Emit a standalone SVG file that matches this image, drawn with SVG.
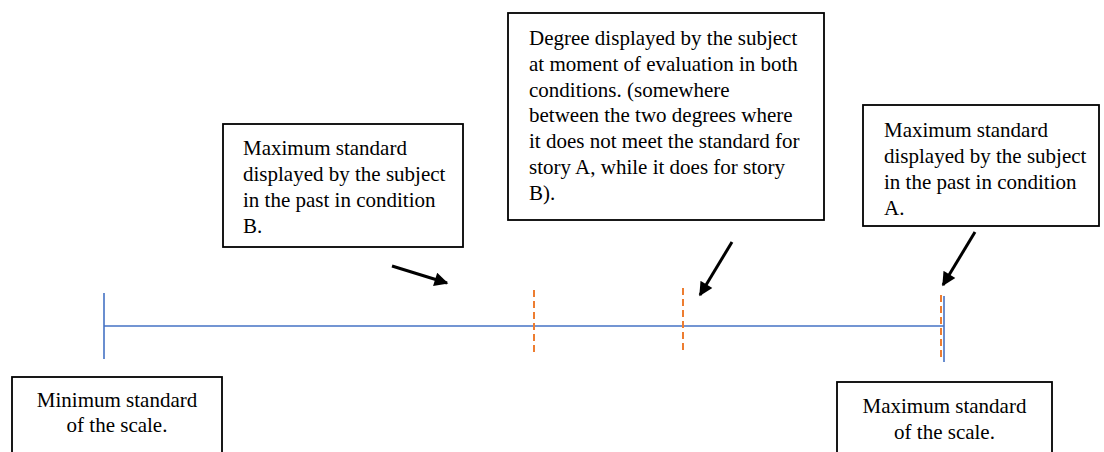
<svg xmlns="http://www.w3.org/2000/svg" width="1104" height="452" viewBox="0 0 1104 452">
<defs>
<style>
.box{fill:#fff;stroke:#000;stroke-width:1.8}
.t{font-family:"Liberation Serif","Times New Roman",serif;font-size:21px;fill:#000}
.c{text-anchor:middle}
.scale{stroke:#4472C4;stroke-width:1.6;fill:none}
.dash{stroke:#ED7D31;stroke-width:2;stroke-dasharray:7 4;fill:none}
.arr{stroke:#000;stroke-width:3;fill:none;marker-end:url(#ah)}
</style>
<marker id="ah" viewBox="0 0 10 10" refX="9" refY="5" markerWidth="5" markerHeight="4.6" orient="auto" markerUnits="strokeWidth">
<path d="M0,0 L10,5 L0,10 Z" fill="#000"/>
</marker>
</defs>
<rect width="1104" height="452" fill="#fff"/>
<g id="scale">
<line class="scale" x1="104" y1="326" x2="944" y2="326"/>
<line class="scale" x1="104" y1="293" x2="104" y2="359"/>
<line class="scale" x1="944" y1="296" x2="944" y2="362"/>
<line class="dash" x1="534" y1="290" x2="534" y2="354"/>
<line class="dash" x1="683" y1="288" x2="683" y2="352"/>
<line class="dash" x1="941" y1="295" x2="941" y2="360"/>
</g>
<g id="connectors">
<line class="arr" x1="392" y1="266" x2="447" y2="283"/>
<line class="arr" x1="732" y1="242" x2="700" y2="295"/>
<line class="arr" x1="975" y1="232" x2="943" y2="285"/>
</g>
<g id="box-b">
<rect class="box" x="223" y="124" width="240" height="123"/>
<text class="t"><tspan x="243" y="155">Maximum standard</tspan><tspan x="243" y="181">displayed by the subject</tspan><tspan x="243" y="207">in the past in condition</tspan><tspan x="243" y="233">B.</tspan></text>
</g>
<g id="box-center">
<rect class="box" x="508" y="13" width="316" height="207"/>
<text class="t"><tspan x="529" y="45">Degree displayed by the subject</tspan><tspan x="529" y="71">at moment of evaluation in both</tspan><tspan x="529" y="97">conditions. (somewhere</tspan><tspan x="529" y="122">between the two degrees where</tspan><tspan x="529" y="148">it does not meet the standard for</tspan><tspan x="529" y="174">story A, while it does for story</tspan><tspan x="529" y="200">B).</tspan></text>
</g>
<g id="box-a">
<rect class="box" x="863" y="105" width="236" height="121"/>
<text class="t"><tspan x="884" y="137">Maximum standard</tspan><tspan x="884" y="163">displayed by the subject</tspan><tspan x="884" y="189">in the past in condition</tspan><tspan x="884" y="215">A.</tspan></text>
</g>
<g id="box-min">
<rect class="box" x="12" y="377" width="210" height="90"/>
<text class="t c"><tspan x="117" y="407">Minimum standard</tspan><tspan x="117" y="432">of the scale.</tspan></text>
</g>
<g id="box-max">
<rect class="box" x="837" y="382" width="215" height="90"/>
<text class="t c"><tspan x="944.5" y="413">Maximum standard</tspan><tspan x="944.5" y="439">of the scale.</tspan></text>
</g>
</svg>
